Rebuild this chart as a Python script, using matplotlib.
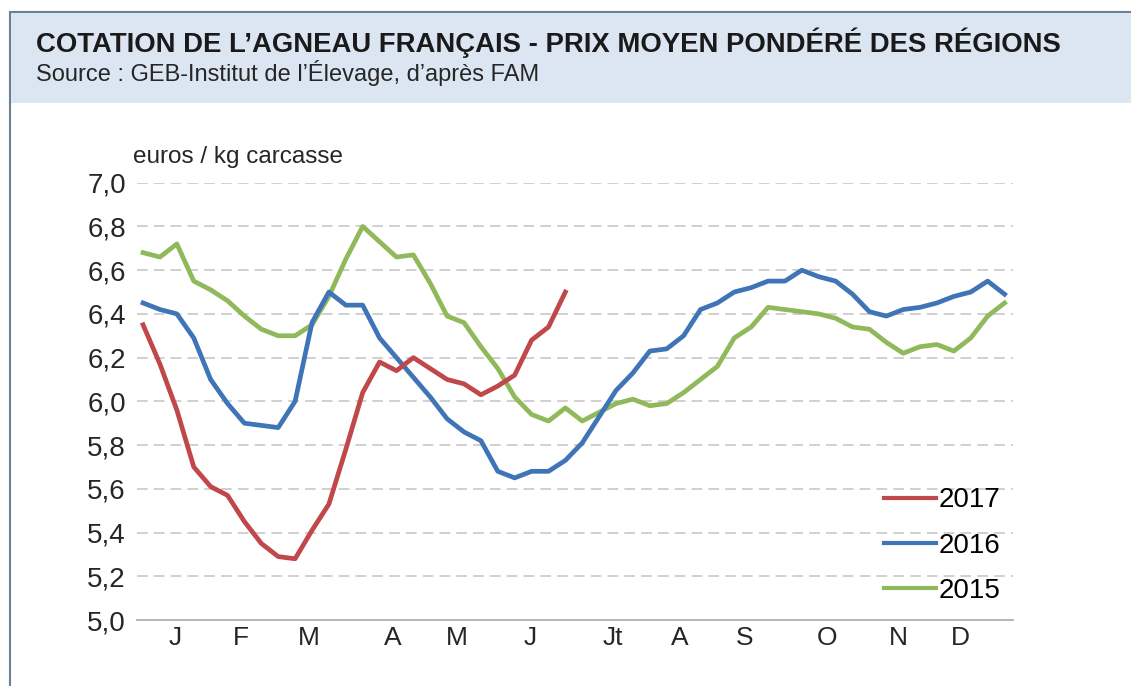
import matplotlib
matplotlib.use("Agg")
import matplotlib.pyplot as plt
from matplotlib.patches import Rectangle
from matplotlib.ticker import FuncFormatter
import numpy as np

plt.rcParams['font.family'] = ['Liberation Sans', 'DejaVu Sans']

# weekly prices, euros / kg carcasse
price_2017 = [6.35, 6.17, 5.96, 5.70, 5.61, 5.57, 5.45, 5.35, 5.29, 5.28,
              5.41, 5.53, 5.78, 6.04, 6.18, 6.14, 6.20, 6.15, 6.10, 6.08,
              6.03, 6.07, 6.12, 6.28, 6.34, 6.50]
price_2016 = [6.45, 6.42, 6.40, 6.29, 6.10, 5.99, 5.90, 5.89, 5.88, 6.00,
              6.36, 6.50, 6.44, 6.44, 6.29, 6.20, 6.11, 6.02, 5.92, 5.86,
              5.82, 5.68, 5.65, 5.68, 5.68, 5.73, 5.81, 5.93, 6.05, 6.13,
              6.23, 6.24, 6.30, 6.42, 6.45, 6.50, 6.52, 6.55, 6.55, 6.60,
              6.57, 6.55, 6.49, 6.41, 6.39, 6.42, 6.43, 6.45, 6.48, 6.50,
              6.55, 6.49]
price_2015 = [6.68, 6.66, 6.72, 6.55, 6.51, 6.46, 6.39, 6.33, 6.30, 6.30,
              6.35, 6.48, 6.65, 6.80, 6.73, 6.66, 6.67, 6.54, 6.39, 6.36,
              6.25, 6.15, 6.02, 5.94, 5.91, 5.97, 5.91, 5.95, 5.99, 6.01,
              5.98, 5.99, 6.04, 6.10, 6.16, 6.29, 6.34, 6.43, 6.42, 6.41,
              6.40, 6.38, 6.34, 6.33, 6.27, 6.22, 6.25, 6.26, 6.23, 6.29,
              6.39, 6.45]
month_labels = ['J', 'F', 'M', 'A', 'M', 'J', 'Jt', 'A', 'S', 'O', 'N', 'D']
month_pos = [1.9, 5.8, 9.8, 14.8, 18.6, 22.9, 27.8, 31.8, 35.6, 40.5, 44.7, 48.4]
yticks = [5.0, 5.2, 5.4, 5.6, 5.8, 6.0, 6.2, 6.4, 6.6, 6.8, 7.0]

W, H = 1131, 686
fig = plt.figure(figsize=(W / 100, H / 100), dpi=100)
fig.patch.set_facecolor('white')

# frame + header band (behind the axes)
fig.patches.append(Rectangle((10 / W, -0.05), 1.1, (H - 12) / H + 0.05, transform=fig.transFigure,
                             facecolor='white', edgecolor='#6b7f95', linewidth=1.5, zorder=-10))
fig.patches.append(Rectangle((11 / W, (H - 103) / H), 1.1, 90 / H, transform=fig.transFigure,
                             facecolor='#dce6f2', edgecolor='none', zorder=-9))

fig.text(36 / W, 1 - 43 / H, "COTATION DE L\u2019AGNEAU FRAN\u00c7AIS - PRIX MOYEN POND\u00c9R\u00c9 DES R\u00c9GIONS",
         fontsize=19.8, fontweight='bold', color='#1a1a1a', va='center', ha='left')
fig.text(36 / W, 1 - 73 / H, "Source : GEB-Institut de l\u2019\u00c9levage, d\u2019apr\u00e8s FAM",
         fontsize=17, color='#262626', va='center', ha='left')

ax = fig.add_axes([137 / W, (H - 620) / H, 876 / W, 437.3 / H])
ax.set_facecolor('none')
ax.set_zorder(5)

weeks17 = np.arange(len(price_2017))
weeks = np.arange(len(price_2016))
ax.plot(weeks, price_2015, color='#8fb95a', lw=3.4, label='2015', solid_joinstyle='round')
ax.plot(weeks, price_2016, color='#3f74b6', lw=3.4, label='2016', solid_joinstyle='round')
ax.plot(weeks17, price_2017, color='#c0474a', lw=3.4, label='2017', solid_joinstyle='round')

ax.set_ylim(5.0, 7.0)
ax.set_xlim(-0.36, 51.5)
ax.set_yticks(yticks)
ax.yaxis.set_major_formatter(FuncFormatter(lambda v, p: f"{v:.1f}".replace('.', ',')))
ax.set_xticks(month_pos)
ax.set_xticklabels(month_labels)
ax.tick_params(axis='y', length=0, pad=8, labelsize=20, labelcolor='#262626')
ax.tick_params(axis='x', length=0, pad=4, labelsize=19, labelcolor='#262626')

for v in yticks[1:]:
    ax.axhline(v, color='#c4c4c4', lw=1.1, ls=(0, (7, 4)), zorder=0)
for s in ['left', 'right', 'top']:
    ax.spines[s].set_visible(False)
ax.spines['bottom'].set_color('#b0b0b0')
ax.spines['bottom'].set_linewidth(1.3)

ax.text(-0.004, 1.058, "euros / kg carcasse", transform=ax.transAxes, fontsize=17.5,
        color='#262626', ha='left', va='center')

h, l = ax.get_legend_handles_labels()
leg = ax.legend(h[::-1], l[::-1], loc='upper left', bbox_to_anchor=(0.853, 0.303),
                frameon=False, fontsize=20, handlelength=1.85, handletextpad=0.1,
                labelspacing=0.69, borderpad=0, borderaxespad=0)
for line in leg.get_lines():
    line.set_linewidth(3)

fig.savefig('out.png', dpi=100)
